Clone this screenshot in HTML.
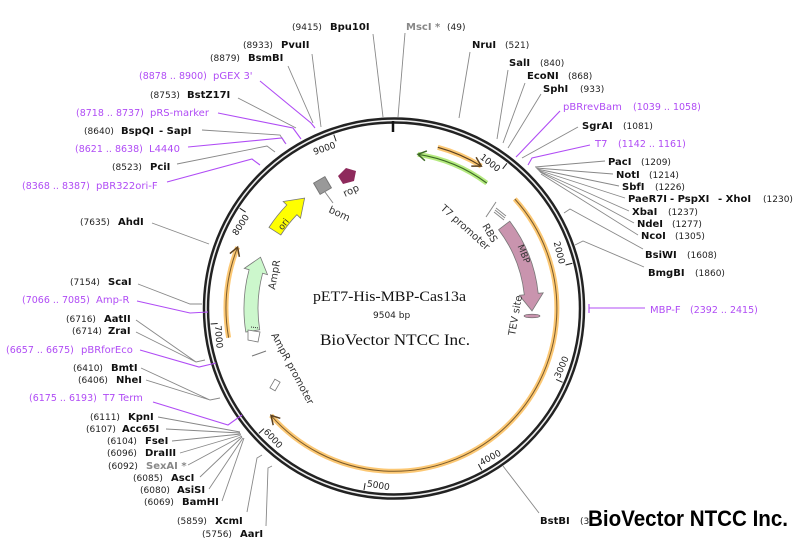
<!DOCTYPE html>
<html><head><meta charset="utf-8"><style>
html,body{margin:0;padding:0;background:#fff;}
svg{display:block;}
text{font-family:"DejaVu Sans","Liberation Sans",sans-serif;}
.n{font-size:9px;fill:#222;}
.b{font-size:10px;font-weight:bold;fill:#111;}
.p{font-size:10px;fill:#b04cf5;}
.pn{font-size:9.5px;fill:#b04cf5;}
.g{font-size:10px;font-weight:bold;fill:#888;}
.l{stroke:#888;stroke-width:0.9;fill:none;}
.lp{stroke:#b04cf5;stroke-width:1.1;fill:none;}
.t{font-size:9px;fill:#222;}
</style></head><body>
<svg width="804" height="549" viewBox="0 0 804 549" xmlns="http://www.w3.org/2000/svg">
<!-- backbone -->
<circle cx="394" cy="308.5" r="188" fill="none" stroke="#222" stroke-width="6.5"/>
<circle cx="394" cy="308.5" r="188" fill="none" stroke="#eee" stroke-width="1.6"/>
<line x1="393" y1="121" x2="393" y2="132" stroke="#111" stroke-width="2.5"/>

<!-- ticks and numbers -->
<g transform="translate(394,308.5) rotate(37.88)"><line x1="0" y1="-184" x2="0" y2="-177" stroke="#222"/><text x="-2" y="-171" text-anchor="end" class="t">1000</text></g>
<g transform="translate(394,308.5) rotate(75.76)"><line x1="0" y1="-184" x2="0" y2="-177" stroke="#222"/><text x="-2" y="-171" text-anchor="end" class="t">2000</text></g>
<g transform="translate(394,308.5) rotate(113.64)"><line x1="0" y1="-184" x2="0" y2="-177" stroke="#222"/><text transform="translate(-2,-180) rotate(180)" class="t">3000</text></g>
<g transform="translate(394,308.5) rotate(151.52)"><line x1="0" y1="-184" x2="0" y2="-177" stroke="#222"/><text transform="translate(-2,-180) rotate(180)" class="t">4000</text></g>
<g transform="translate(394,308.5) rotate(189.39)"><line x1="0" y1="-184" x2="0" y2="-177" stroke="#222"/><text transform="translate(-2,-180) rotate(180)" class="t">5000</text></g>
<g transform="translate(394,308.5) rotate(227.27)"><line x1="0" y1="-184" x2="0" y2="-177" stroke="#222"/><text transform="translate(-2,-180) rotate(180)" class="t">6000</text></g>
<g transform="translate(394,308.5) rotate(265.15)"><line x1="0" y1="-184" x2="0" y2="-177" stroke="#222"/><text transform="translate(-2,-180) rotate(180)" class="t">7000</text></g>
<g transform="translate(394,308.5) rotate(303.03)"><line x1="0" y1="-184" x2="0" y2="-177" stroke="#222"/><text x="-2" y="-171" text-anchor="end" class="t">8000</text></g>
<g transform="translate(394,308.5) rotate(340.91)"><line x1="0" y1="-184" x2="0" y2="-177" stroke="#222"/><text x="-2" y="-171" text-anchor="end" class="t">9000</text></g>

<!-- orange arcs -->
<path d="M514.8 199.0 A163 163 0 1 1 271.0 415.4" fill="none" stroke="#fcc874" stroke-width="5"/>
<path d="M514.8 199.0 A163 163 0 1 1 271.0 415.4" fill="none" stroke="#7a5a2a" stroke-width="1"/>
<polyline points="280.3,418.3 271.0,415.4 273.2,425.2" fill="none" stroke="#5a4020" stroke-width="1.5"/>
<path d="M228.6 337.7 A168 168 0 0 1 237.6 247.2" fill="none" stroke="#fcc874" stroke-width="5"/>
<path d="M228.6 337.7 A168 168 0 0 1 237.6 247.2" fill="none" stroke="#7a5a2a" stroke-width="1"/>
<polyline points="239.4,256.8 237.6,247.2 229.9,253.6" fill="none" stroke="#5a4020" stroke-width="1.5"/>
<path d="M437.8 147.3 A167 167 0 0 1 481.3 166.1" fill="none" stroke="#fcc874" stroke-width="5"/>
<path d="M437.8 147.3 A167 167 0 0 1 481.3 166.1" fill="none" stroke="#5a4020" stroke-width="1.2"/>
<polyline points="471.3,166.1 481.3,166.1 476.1,157.3" fill="none" stroke="#5a4020" stroke-width="1.5"/>
<path d="M486.8 183.1 A156 156 0 0 0 417.9 154.3" fill="none" stroke="#b5ea80" stroke-width="5"/>
<path d="M486.8 183.1 A156 156 0 0 0 417.9 154.3" fill="none" stroke="#3d6a25" stroke-width="1.2"/>
<polyline points="424.9,160.7 417.9,154.3 426.9,150.9" fill="none" stroke="#3d6a25" stroke-width="1.5"/>

<!-- MBP -->
<path d="M509.8 221.2 A145 145 0 0 1 538.2 293.3 L543.2 292.8 L532.0 310.9 L519.3 295.3 L524.3 294.8 A131 131 0 0 0 498.6 229.7 Z" fill="#c994ae" stroke="#777" stroke-width="0.8"/>
<text transform="translate(521,255) rotate(68)" text-anchor="middle" style="font-size:9px;fill:#333">MBP</text>
<g stroke="#888" stroke-width="1"><line x1="496" y1="208" x2="506" y2="216"/><line x1="495" y1="210" x2="505" y2="218"/><line x1="494" y1="212" x2="504" y2="220"/></g>
<line x1="486" y1="217" x2="496" y2="202" stroke="#888" stroke-width="1"/>
<ellipse cx="532" cy="316" rx="8" ry="1.8" fill="#c994ae" stroke="#666" stroke-width="0.6"/>
<text transform="translate(440,209) rotate(42)" style="font-size:10px;fill:#333">T7 promoter</text>
<text transform="translate(482,226) rotate(60)" style="font-size:10px;fill:#333">RBS</text>
<text transform="translate(515,336) rotate(-80)" style="font-size:10px;fill:#333">TEV site</text>

<!-- AmpR -->
<path d="M259.7 329.8 A136 136 0 0 1 262.6 273.3 L267.5 274.6 L260.5 257.2 L244.3 268.4 L249.1 269.7 A150 150 0 0 0 245.8 332.0 Z" fill="#ccf7cc" stroke="#777" stroke-width="0.8"/>
<path d="M248 330 L260 332 L258 342 L248 340 Z" fill="#fff" stroke="#777" stroke-width="0.8"/>
<line x1="251" y1="327" x2="259" y2="328" stroke="#333" stroke-dasharray="1,1"/>
<line x1="252" y1="356" x2="266" y2="351" stroke="#777" stroke-width="1"/>
<rect x="272" y="380" width="6" height="10" transform="rotate(30 275 385)" fill="#fff" stroke="#777" stroke-width="0.8"/>
<text transform="translate(275,290) rotate(-80)" style="font-size:10px;fill:#333">AmpR</text>
<text transform="translate(271,335) rotate(62)" style="font-size:10px;fill:#333">AmpR promoter</text>

<!-- ori -->
<path d="M280.8 235.0 A135 135 0 0 1 296.9 214.7 L300.5 218.2 L304.6 198.1 L283.2 201.5 L286.8 205.0 A149 149 0 0 0 269.0 227.4 Z" fill="#ffff00" stroke="#777" stroke-width="0.8"/>
<text transform="translate(286,226) rotate(-52)" text-anchor="middle" style="font-size:9px;fill:#333">ori</text>

<!-- bom / rop -->
<rect x="316" y="179" width="13" height="13" transform="rotate(-30 322.5 185.5)" fill="#999" stroke="#777"/>
<line x1="325" y1="192" x2="333" y2="203" stroke="#888"/>
<text transform="translate(328,212) rotate(25)" style="font-size:10px;fill:#333">bom</text>
<polygon points="338,176 346,168 356,171 354,181 343,184" fill="#8e2a5c"/>
<text transform="translate(345,197) rotate(-25)" style="font-size:10px;fill:#333">rop</text>

<!-- center text -->
<text x="313" y="301" textLength="153" lengthAdjust="spacingAndGlyphs" style="font-family:'Liberation Serif',serif;font-size:15px;fill:#111">pET7-His-MBP-Cas13a</text>
<text x="373" y="318" style="font-size:9px;fill:#222">9504 bp</text>
<text x="320" y="345" textLength="150" lengthAdjust="spacingAndGlyphs" style="font-family:'Liberation Serif',serif;font-size:16px;fill:#111">BioVector NTCC Inc.</text>

<!-- left top labels -->
<text x="292" y="30"><tspan class="n">(9415)</tspan><tspan class="b" x="330">Bpu10I</tspan></text>
<path class="l" d="M373 34 L383 117"/>
<text x="243" y="48"><tspan class="n">(8933)</tspan><tspan class="b" x="281">PvuII</tspan></text>
<path class="l" d="M312 54 L321 127"/>
<text x="210" y="61"><tspan class="n">(8879)</tspan><tspan class="b" x="248">BsmBI</tspan></text>
<path class="l" d="M288 66 L313 123"/>
<text x="139" y="79"><tspan class="pn">(8878 .. 8900)</tspan><tspan class="p" x="213">pGEX 3'</tspan></text>
<path class="lp" d="M260 81 L311 123 L315 128"/>
<text x="150" y="98"><tspan class="n">(8753)</tspan><tspan class="b" x="187">BstZ17I</tspan></text>
<path class="l" d="M238 98 L296 128"/>
<text x="76" y="116"><tspan class="pn">(8718 .. 8737)</tspan><tspan class="p" x="150">pRS-marker</tspan></text>
<path class="lp" d="M218 113 L293 128 L301 139"/>
<text x="84" y="134"><tspan class="n">(8640)</tspan><tspan class="b" x="121">BspQI</tspan><tspan class="b" x="159">- SapI</tspan></text>
<path class="l" d="M202 130 L280 135 L285 143"/>
<text x="75" y="152"><tspan class="pn">(8621 .. 8638)</tspan><tspan class="p" x="149">L4440</tspan></text>
<path class="lp" d="M188 147 L282 138 L286 144"/>
<text x="112" y="170"><tspan class="n">(8523)</tspan><tspan class="b" x="150">PciI</tspan></text>
<path class="l" d="M177 164 L267 146 L275 152"/>
<text x="22" y="189"><tspan class="pn">(8368 .. 8387)</tspan><tspan class="p" x="96">pBR322ori-F</tspan></text>
<path class="lp" d="M167 182 L252 159 L260 165"/>
<text x="80" y="225"><tspan class="n">(7635)</tspan><tspan class="b" x="118">AhdI</tspan></text>
<path class="l" d="M152 223 L209 244"/>

<!-- left bottom labels -->
<text x="70" y="285"><tspan class="n">(7154)</tspan><tspan class="b" x="108">ScaI</tspan></text>
<path class="l" d="M138 284 L190 304 L202 304"/>
<text x="22" y="303"><tspan class="pn">(7066 .. 7085)</tspan><tspan class="p" x="96">Amp-R</tspan></text>
<path class="lp" d="M137 301 L190 313 L208 312"/>
<text x="66" y="322"><tspan class="n">(6716)</tspan><tspan class="b" x="104">AatII</tspan></text>
<text x="72" y="334"><tspan class="n">(6714)</tspan><tspan class="b" x="108">ZraI</tspan></text>
<path class="l" d="M136 320 L196 362 L205 360 M136 332 L196 362"/>
<text x="6" y="353"><tspan class="pn">(6657 .. 6675)</tspan><tspan class="p" x="81">pBRforEco</tspan></text>
<path class="lp" d="M140 350 L199 367 L216 363"/>
<text x="73" y="371"><tspan class="n">(6410)</tspan><tspan class="b" x="111">BmtI</tspan></text>
<text x="78" y="383"><tspan class="n">(6406)</tspan><tspan class="b" x="116">NheI</tspan></text>
<path class="l" d="M141 368 L210 400 L220 398 M146 380 L210 400"/>
<text x="29" y="401"><tspan class="pn">(6175 .. 6193)</tspan><tspan class="p" x="103">T7 Term</tspan></text>
<path class="lp" d="M153 402 L228 425 L242 415"/>
<text x="90" y="420"><tspan class="n">(6111)</tspan><tspan class="b" x="128">KpnI</tspan></text>
<text x="86" y="432"><tspan class="n">(6107)</tspan><tspan class="b" x="122">Acc65I</tspan></text>
<text x="107" y="444"><tspan class="n">(6104)</tspan><tspan class="b" x="145">FseI</tspan></text>
<text x="107" y="456"><tspan class="n">(6096)</tspan><tspan class="b" x="145">DraIII</tspan></text>
<text x="108" y="469"><tspan class="n">(6092)</tspan><tspan class="g" x="146">SexAI *</tspan></text>
<text x="133" y="481"><tspan class="n">(6085)</tspan><tspan class="b" x="171">AscI</tspan></text>
<text x="140" y="493"><tspan class="n">(6080)</tspan><tspan class="b" x="177">AsiSI</tspan></text>
<text x="144" y="505"><tspan class="n">(6069)</tspan><tspan class="b" x="182">BamHI</tspan></text>
<path class="l" d="M158 417 L240 432 M166 429 L240 433 M172 441 L241 434 M180 453 L241 435 M188 465 L242 436 M200 477 L242 437 M209 489 L243 438 M222 501 L244 438"/>
<text x="177" y="524"><tspan class="n">(5859)</tspan><tspan class="b" x="215">XcmI</tspan></text>
<path class="l" d="M247 512 L257 458 L262 455"/>
<text x="202" y="537"><tspan class="n">(5756)</tspan><tspan class="b" x="240">AarI</tspan></text>
<path class="l" d="M266 526 L268 468 L272 466"/>

<!-- right labels -->
<text x="406" y="30"><tspan class="g">MscI *</tspan><tspan class="n" x="447">(49)</tspan></text>
<path class="l" d="M405 33 L398 117"/>
<text x="472" y="48"><tspan class="b">NruI</tspan><tspan class="n" x="505">(521)</tspan></text>
<path class="l" d="M470 52 L459 118"/>
<text x="509" y="66"><tspan class="b">SalI</tspan><tspan class="n" x="540">(840)</tspan></text>
<path class="l" d="M508 70 L497 139"/>
<text x="527" y="79"><tspan class="b">EcoNI</tspan><tspan class="n" x="568">(868)</tspan></text>
<path class="l" d="M525 83 L503 143"/>
<text x="543" y="92"><tspan class="b">SphI</tspan><tspan class="n" x="580">(933)</tspan></text>
<path class="l" d="M541 94 L508 148"/>
<text x="563" y="110"><tspan class="p">pBRrevBam</tspan><tspan class="pn" x="633">(1039 .. 1058)</tspan></text>
<path class="lp" d="M560 111 L519 154 L516 157"/>
<text x="582" y="129"><tspan class="b">SgrAI</tspan><tspan class="n" x="623">(1081)</tspan></text>
<path class="l" d="M578 127 L522 158"/>
<text x="595" y="147"><tspan class="p">T7</tspan><tspan class="pn" x="618">(1142 .. 1161)</tspan></text>
<path class="lp" d="M590 145 L532 158 L528 165"/>
<text x="608" y="165"><tspan class="b">PacI</tspan><tspan class="n" x="641">(1209)</tspan></text>
<text x="616" y="178"><tspan class="b">NotI</tspan><tspan class="n" x="649">(1214)</tspan></text>
<text x="622" y="190"><tspan class="b">SbfI</tspan><tspan class="n" x="655">(1226)</tspan></text>
<text x="628" y="202"><tspan class="b">PaeR7I</tspan><tspan class="b" x="670">- PspXI</tspan><tspan class="b" x="718">- XhoI</tspan><tspan class="n" x="763">(1230)</tspan></text>
<text x="632" y="215"><tspan class="b">XbaI</tspan><tspan class="n" x="668">(1237)</tspan></text>
<text x="637" y="227"><tspan class="b">NdeI</tspan><tspan class="n" x="672">(1277)</tspan></text>
<text x="641" y="239"><tspan class="b">NcoI</tspan><tspan class="n" x="675">(1305)</tspan></text>
<path class="l" d="M535 167 L605 161 M536 168 L613 174 M537 169 L619 186 M538 170 L625 198 M539 171 L629 211 M540 172 L634 223 M541 174 L638 235"/>
<text x="645" y="258"><tspan class="b">BsiWI</tspan><tspan class="n" x="687">(1608)</tspan></text>
<path class="l" d="M643 249 L570 209 L564 213"/>
<text x="648" y="276"><tspan class="b">BmgBI</tspan><tspan class="n" x="695">(1860)</tspan></text>
<path class="l" d="M644 267 L583 241 L575 245"/>
<text x="650" y="313"><tspan class="p">MBP-F</tspan><tspan class="pn" x="690">(2392 .. 2415)</tspan></text>
<path class="lp" d="M645 308 L589 308 M589 304 L589 313"/>
<text x="540" y="524"><tspan class="b">BstBI</tspan><tspan class="n" x="580">(3</tspan></text>
<path class="l" d="M539 513 L503 466"/>
<text x="588" y="526" style="font-family:'Liberation Sans',sans-serif;font-size:22px;font-weight:bold;fill:#000" textLength="200" lengthAdjust="spacingAndGlyphs">BioVector NTCC Inc.</text>
</svg>
</body></html>
